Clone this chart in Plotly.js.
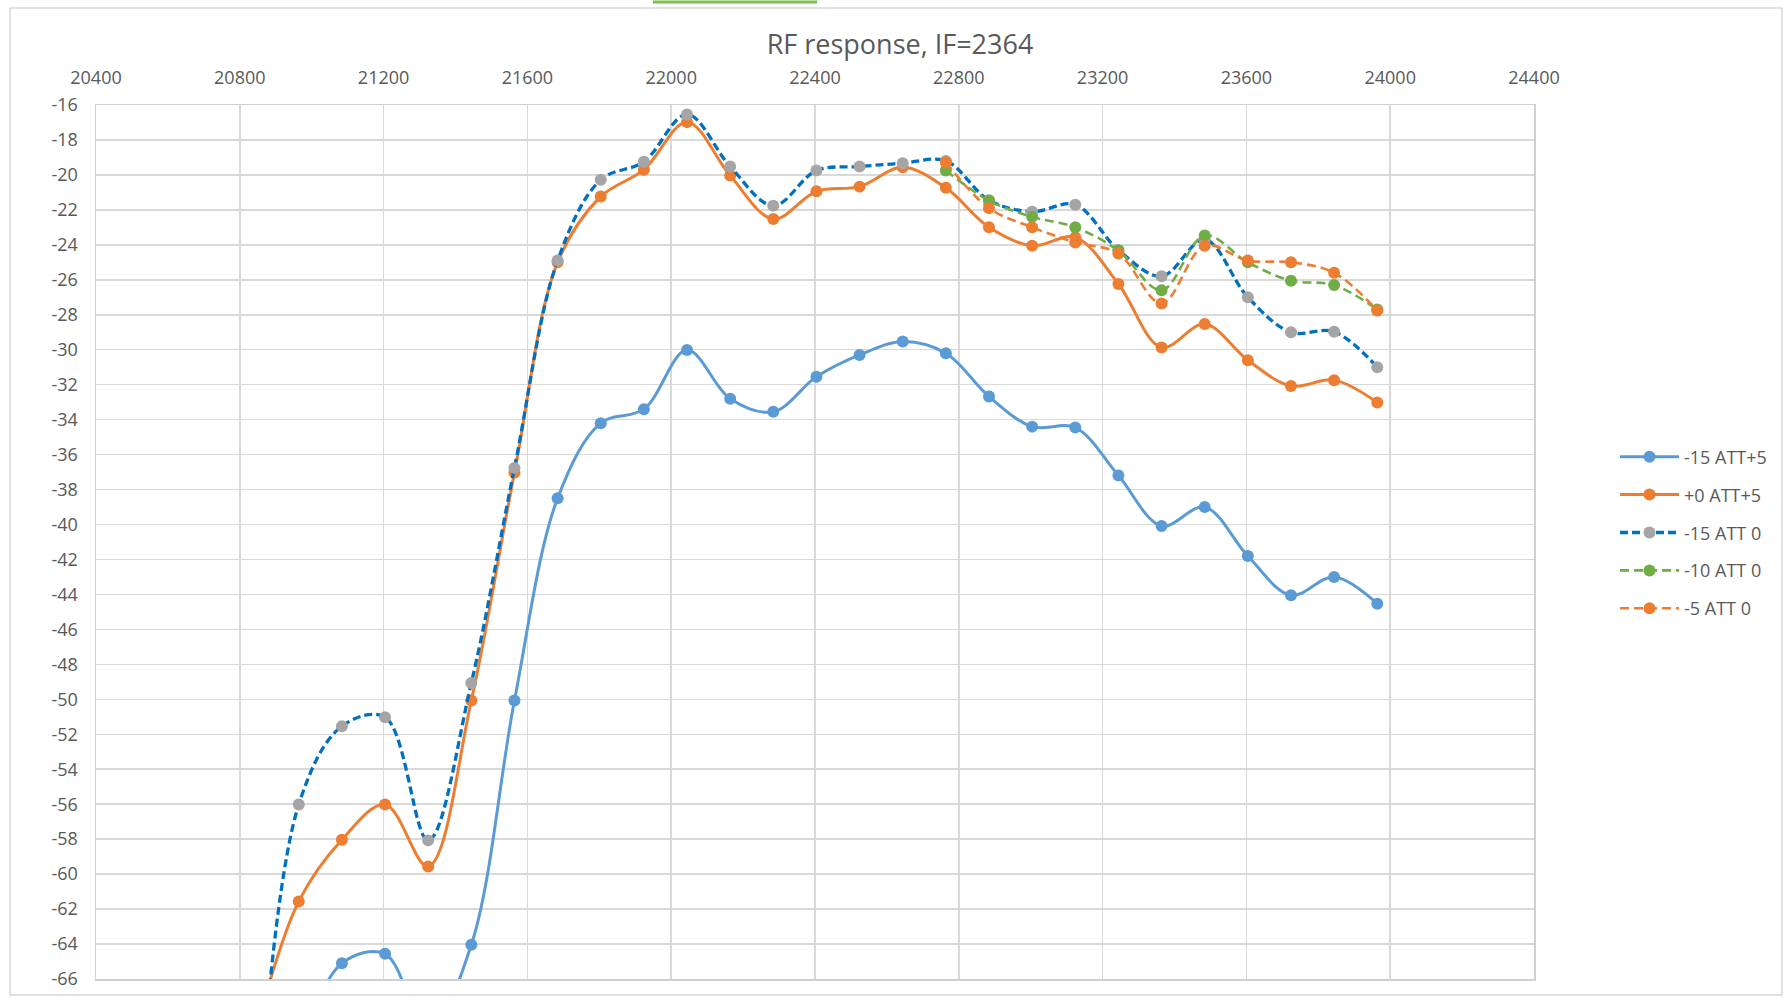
<!DOCTYPE html>
<html><head><meta charset="utf-8">
<script src="https://cdn.plot.ly/plotly-3.0.1.min.js"></script>
<style>html,body{margin:0;padding:0;background:#fff;} #chart{width:1791px;height:999px;}</style>
</head><body><div id="chart"></div>
<script>
// RF frequencies (MHz)
const freqLow = [20964, 21084, 21204, 21324, 21444, 21564, 21684, 21804, 21924, 22044, 22164, 22284, 22404, 22524, 22644, 22764, 22884, 23004, 23124, 23244, 23364, 23484, 23604, 23724, 23844, 23964];
const freqFull = [20844, 20964, 21084, 21204, 21324, 21444, 21564, 21684, 21804, 21924, 22044, 22164, 22284, 22404, 22524, 22644, 22764, 22884, 23004, 23124, 23244, 23364, 23484, 23604, 23724, 23844, 23964];
const freqHigh = [22764, 22884, 23004, 23124, 23244, 23364, 23484, 23604, 23724, 23844, 23964];

const seriesNames = ["-15 ATT+5", "+0 ATT+5", "-15 ATT 0", "-10 ATT 0", "-5 ATT 0"];

const m15att5 = [-70, -65.1, -64.56, -69, -64.04, -50.07, -38.5, -34.2, -33.4, -30.02, -32.8, -33.55, -31.55, -30.3, -29.53, -30.2, -32.68, -34.4, -34.45, -37.2, -40.08, -39.0, -41.8, -44.05, -43.0, -44.53];
const p0att5 = [-69, -61.56, -58.03, -56.02, -59.56, -50.07, -37.03, -25.0, -21.24, -19.7, -16.98, -20.04, -22.52, -20.94, -20.67, -19.56, -20.74, -23.0, -24.05, -23.57, -26.24, -29.87, -28.53, -30.6, -32.07, -31.74, -33.02];
const m15att0 = [-76, -56.02, -51.54, -51.02, -58.07, -49.06, -36.76, -24.9, -20.28, -19.24, -16.54, -19.52, -21.76, -19.75, -19.52, -19.33, -19.2, -21.45, -22.1, -21.7, -24.3, -25.8, -23.7, -27.0, -29.0, -28.97, -31.0];
const m10att0 = [-19.75, -21.47, -22.4, -23.0, -24.33, -26.6, -23.47, -25.0, -26.05, -26.3, -27.7];
const m5att0 = [-19.27, -21.9, -23.0, -23.86, -24.5, -27.35, -24.05, -24.9, -25.0, -25.6, -27.75];

const xTicks = [20400, 20800, 21200, 21600, 22000, 22400, 22800, 23200, 23600, 24000, 24400];
const yTicks = [-16, -18, -20, -22, -24, -26, -28, -30, -32, -34, -36, -38, -40, -42, -44, -46, -48, -50, -52, -54, -56, -58, -60, -62, -64, -66];

const FONT = "Open Sans, sans-serif";
const GREY_TXT = "#595959";

function tr(name, x, y, lineColor, markerColor, dash, width, grp) {
  return {
    type: "scatter", mode: "lines+markers", name: name, x: x, y: y,
    legendgroup: grp,
    line: {color: lineColor, width: width, dash: dash, shape: "spline", smoothing: 1},
    marker: {color: markerColor, size: 12, symbol: "circle", line: {width: 0}},
    cliponaxis: true
  };
}

const data = [
  tr(seriesNames[0], freqLow, m15att5, "#5B9BD5", "#5B9BD5", "solid", 3, "g1"),
  tr(seriesNames[1], freqFull, p0att5, "#ED7D31", "#ED7D31", "solid", 3, "g2"),
  tr(seriesNames[2], freqFull, m15att0, "#0070C0", "#A5A5A5", "8px,4px", 3.3, "g3"),
  tr(seriesNames[3], freqHigh, m10att0, "#70AD47", "#70AD47", "9px,5px", 2.6, "g4"),
  tr(seriesNames[4], freqHigh, m5att0, "#ED7D31", "#ED7D31", "9px,5px", 2.6, "g5")
];

const PL = 96, PR = 1534, PT = 105, PB = 979;
const px = X => (X - PL) / (PR - PL);
const py = Y => (PB - Y) / (PB - PT);

const layout = {
  width: 1791, height: 999,
  margin: {l: PL, r: 1791 - PR, t: PT, b: 999 - PB, pad: 0},
  paper_bgcolor: "#ffffff", plot_bgcolor: "#ffffff",
  font: {family: FONT, color: GREY_TXT, size: 18},
  title: {text: "RF response, IF=2364", font: {family: FONT, size: 27, color: GREY_TXT},
          xref: "container", x: 900 / 1791, xanchor: "center",
          yref: "container", y: 1 - 44.5 / 999, yanchor: "middle"},
  xaxis: {
    side: "top", range: [20400, 24400], tickmode: "array", tickvals: xTicks, ticktext: xTicks.map(String),
    showgrid: true, gridcolor: "#D9D9D9", gridwidth: 1.5,
    showline: true, linecolor: "#D0D0D0", linewidth: 1.5, mirror: true,
    ticks: "", ticklabelstandoff: 12, zeroline: false, automargin: false,
    tickfont: {family: FONT, size: 18, color: GREY_TXT}
  },
  yaxis: {
    range: [-66, -16], tickmode: "array", tickvals: yTicks, ticktext: yTicks.map(String),
    showgrid: true, gridcolor: "#D9D9D9", gridwidth: 1.5,
    showline: true, linecolor: "#D0D0D0", linewidth: 1.5, mirror: true,
    ticks: "", ticklabelstandoff: 13, zeroline: false, automargin: false,
    tickfont: {family: FONT, size: 18, color: GREY_TXT}
  },
  showlegend: true,
  legend: {
    x: px(1615), xanchor: "left", y: py(438.5), yanchor: "top",
    font: {family: FONT, size: 18, color: GREY_TXT},
    bgcolor: "rgba(0,0,0,0)", borderwidth: 0,
    traceorder: "grouped", tracegroupgap: 11.5, itemwidth: 59
  },
  shapes: [
    {type: "rect", xref: "paper", yref: "paper", x0: px(10), x1: px(1782), y0: py(995), y1: py(8),
     line: {color: "#D9D9D9", width: 1.5}, fillcolor: "rgba(0,0,0,0)", layer: "below"},
    {type: "line", xref: "paper", yref: "paper", x0: px(653), x1: px(817), y0: py(2), y1: py(2),
     line: {color: "#7CC34B", width: 3}}
  ]
};

Plotly.newPlot("chart", data, layout, {displayModeBar: false, staticPlot: true});
</script>
</body></html>
